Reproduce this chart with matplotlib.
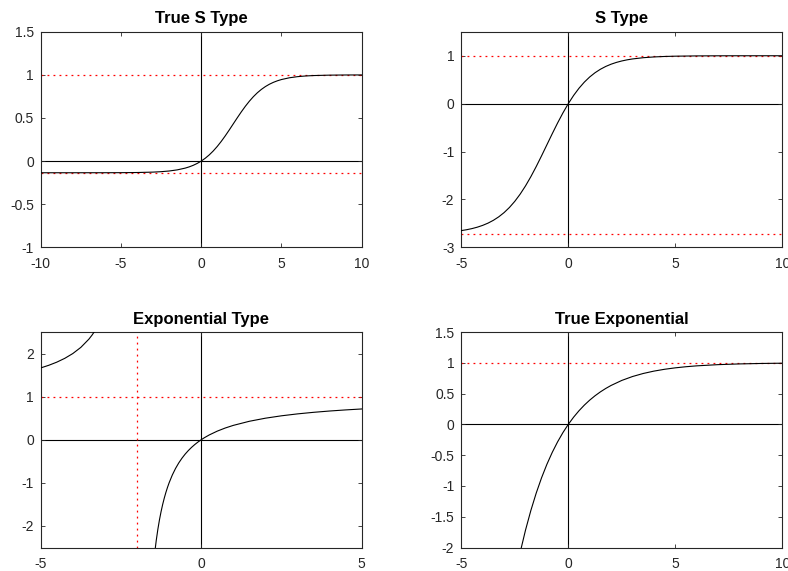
import matplotlib
matplotlib.use('Agg')
import matplotlib.pyplot as plt
import numpy as np

plt.rcParams['font.family'] = ['Liberation Sans', 'DejaVu Sans']

# True S Type
ts_x = [-10, -8, -6, -5, -4, -3, -2.5, -2, -1.5, -1, -0.75, -0.5, -0.25, 0, 0.25,
        0.5, 0.75, 1, 1.25, 1.5, 1.75, 2, 2.25, 2.5, 2.75, 3, 3.25, 3.5, 3.75, 4,
        4.25, 4.5, 4.75, 5, 5.5, 6, 6.5, 7, 8, 9, 10]
ts_y = [-0.1353, -0.1352, -0.1349, -0.1343, -0.1325, -0.1277, -0.1228, -0.1149,
        -0.1020, -0.0815, -0.0671, -0.0492, -0.0270, 0.0, 0.0328, 0.0718, 0.1175,
        0.1700, 0.2289, 0.2933, 0.3618, 0.4324, 0.5029, 0.5714, 0.6358, 0.6947,
        0.7472, 0.7929, 0.8319, 0.8647, 0.8918, 0.9139, 0.9318, 0.9462, 0.9667,
        0.9796, 0.9875, 0.9924, 0.9972, 0.9990, 0.9996]
ts_low, ts_high = -0.1353, 1.0

# S Type
s_x = [-5, -4.75, -4.5, -4.25, -4, -3.75, -3.5, -3.25, -3, -2.75, -2.5, -2.25, -2,
       -1.75, -1.5, -1.25, -1, -0.75, -0.5, -0.25, 0, 0.25, 0.5, 0.75, 1, 1.25,
       1.5, 1.75, 2, 2.25, 2.5, 2.75, 3, 3.5, 4, 4.5, 5, 6, 7, 8, 10]
s_y = [-2.6514, -2.6328, -2.6093, -2.5795, -2.5419, -2.4949, -2.4362, -2.3637,
       -2.2751, -2.1678, -2.0400, -1.8902, -1.7183, -1.5254, -1.3145, -1.0903,
       -0.8591, -0.6280, -0.4038, -0.1929, 0.0, 0.1719, 0.3217, 0.4495, 0.5568,
       0.6455, 0.7179, 0.7766, 0.8237, 0.8612, 0.8910, 0.9146, 0.9331, 0.9591,
       0.9751, 0.9849, 0.9908, 0.9966, 0.9988, 0.9995, 0.9999]
s_low, s_high = -2.7183, 1.0

# Exponential Type, two branches around the vertical asymptote
e_left_x = [-5, -4.75, -4.5, -4.25, -4, -3.75, -3.5, -3.4, -3.3, -3.25]
e_left_y = [1.6667, 1.7273, 1.8, 1.8889, 2.0, 2.1429, 2.3333, 2.4286, 2.5385, 2.6]
e_right_x = [-1.45, -1.4, -1.35, -1.3, -1.25, -1.2, -1.15, -1.1, -1.05, -1.0, -0.9,
             -0.8, -0.7, -0.6, -0.5, -0.4, -0.3, -0.2, -0.1, 0, 0.1, 0.25, 0.5,
             0.75, 1, 1.5, 2, 2.5, 3, 3.5, 4, 4.5, 5]
e_right_y = [-2.636, -2.3333, -2.0769, -1.8571, -1.6667, -1.5, -1.3529, -1.2222,
             -1.1053, -1.0, -0.8182, -0.6667, -0.5385, -0.4286, -0.3333, -0.25,
             -0.1765, -0.1111, -0.0526, 0.0, 0.0476, 0.1111, 0.2, 0.2727, 0.3333,
             0.4286, 0.5, 0.5556, 0.6, 0.6364, 0.6667, 0.6923, 0.7143]
e_asym_x, e_asym_y = -2.0, 1.0

# True Exponential
te_x = [-2.5, -2.25, -2, -1.75, -1.5, -1.25, -1, -0.75, -0.5, -0.25, 0, 0.25, 0.5,
        0.75, 1, 1.25, 1.5, 1.75, 2, 2.5, 3, 3.5, 4, 4.5, 5, 5.5, 6, 7, 8, 9, 10]
te_y = [-2.4903, -2.0802, -1.7183, -1.3989, -1.117, -0.8682, -0.6487, -0.4550,
        -0.2840, -0.1331, 0.0, 0.1175, 0.2212, 0.3127, 0.3935, 0.4647, 0.5276,
        0.5831, 0.6321, 0.7135, 0.7769, 0.8262, 0.8647, 0.8946, 0.9179, 0.9361,
        0.9502, 0.9698, 0.9817, 0.9889, 0.9933]
te_high = 1.0

grey = '#262626'
fig = plt.figure(figsize=(7.88, 5.71), dpi=100)


def setup(ax, title, xlim, ylim, xt, yt):
    ax.set_xlim(xlim)
    ax.set_ylim(ylim)
    ax.set_xticks(xt)
    ax.set_yticks(yt)
    ax.set_xticklabels([('%g' % v) for v in xt])
    ax.set_yticklabels([('%g' % v) for v in yt])
    ax.tick_params(direction='in', length=3, width=0.6, top=True, right=True,
                   labelsize=10, colors=grey)
    ax.tick_params(axis='x', pad=7)
    ax.tick_params(axis='y', pad=5)
    for s in ax.spines.values():
        s.set_color(grey)
        s.set_linewidth(0.8)
    ax.set_title(title, fontsize=12, fontweight='bold', pad=6)
    ax.axhline(0, color='k', lw=0.8, zorder=1)
    ax.axvline(0, color='k', lw=0.8, zorder=1)


W, H = 321 / 788, 215.5 / 571
L1, L2 = 40.7 / 788, 461.3 / 788
B1, B2 = (571 - 247.3) / 571, (571 - 547.5) / 571

red = dict(color='red', ls=(0, (1.5, 3.3)), lw=0.9, zorder=2)

ax1 = fig.add_axes([L1, B1, W, H])
setup(ax1, 'True S Type', (-10, 10), (-1, 1.5), [-10, -5, 0, 5, 10],
      [-1, -0.5, 0, 0.5, 1, 1.5])
ax1.axhline(ts_high, **red)
ax1.axhline(ts_low, **red)
ax1.plot(ts_x, ts_y, color='k', lw=0.8, zorder=3)

ax2 = fig.add_axes([L2, B1, W, H])
setup(ax2, 'S Type', (-5, 10), (-3, 1.5), [-5, 0, 5, 10], [-3, -2, -1, 0, 1])
ax2.axhline(s_high, **red)
ax2.axhline(s_low, **red)
ax2.plot(s_x, s_y, color='k', lw=0.8, zorder=3)

ax3 = fig.add_axes([L1, B2, W, H])
setup(ax3, 'Exponential Type', (-5, 5), (-2.5, 2.5), [-5, 0, 5], [-2, -1, 0, 1, 2])
ax3.axhline(e_asym_y, **red)
ax3.axvline(e_asym_x, **red)
ax3.plot(e_left_x, e_left_y, color='k', lw=0.8, zorder=3)
ax3.plot(e_right_x, e_right_y, color='k', lw=0.8, zorder=3)

ax4 = fig.add_axes([L2, B2, W, H])
setup(ax4, 'True Exponential', (-5, 10), (-2, 1.5), [-5, 0, 5, 10],
      [-2, -1.5, -1, -0.5, 0, 0.5, 1, 1.5])
ax4.axhline(te_high, **red)
ax4.plot(te_x, te_y, color='k', lw=0.8, zorder=3)

fig.savefig('out.png', dpi=100)
